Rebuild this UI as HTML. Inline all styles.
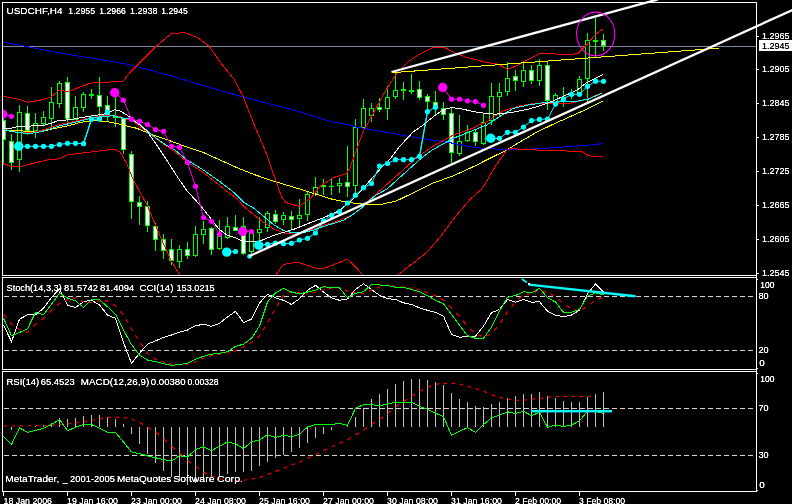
<!DOCTYPE html>
<html><head><meta charset="utf-8"><title>USDCHF,H4</title>
<style>html,body{margin:0;padding:0;background:#000;overflow:hidden}svg{display:block}text{font-family:"Liberation Sans",sans-serif;font-size:9.6px;fill:#fff}</style></head><body>
<svg width="792" height="504" viewBox="0 0 792 504">
<rect width="792" height="504" fill="#000"/>
<defs><filter id="gray" filterUnits="userSpaceOnUse" x="0" y="0" width="792" height="504" color-interpolation-filters="sRGB"><feColorMatrix type="saturate" values="0"/><feComponentTransfer><feFuncA type="linear" slope="1.45"/></feComponentTransfer></filter><clipPath id="cm"><rect x="3" y="3" width="753" height="272"/></clipPath><clipPath id="c1"><rect x="3" y="278" width="753" height="91"/></clipPath><clipPath id="c2"><rect x="3" y="372" width="753" height="119"/></clipPath></defs>
<g clip-path="url(#cm)">
<rect x="3" y="46" width="756" height="1" fill="#778899"/>
<g shape-rendering="crispEdges">
<rect x="3" y="114" width="1" height="51" fill="#0f0"/>
<rect x="1" y="120" width="5" height="20" fill="#0f0"/>
<rect x="2" y="121" width="3" height="18" fill="#fff"/>
<rect x="11" y="134" width="1" height="36" fill="#0f0"/>
<rect x="9" y="141" width="5" height="22" fill="#0f0"/>
<rect x="10" y="142" width="3" height="20" fill="#fff"/>
<rect x="19" y="105" width="1" height="67" fill="#0f0"/>
<rect x="17" y="112" width="5" height="48" fill="#0f0"/>
<rect x="18" y="113" width="3" height="46" fill="#000"/>
<rect x="27" y="106" width="1" height="29" fill="#0f0"/>
<rect x="25" y="113" width="5" height="18" fill="#0f0"/>
<rect x="26" y="114" width="3" height="16" fill="#fff"/>
<rect x="35" y="113" width="1" height="25" fill="#0f0"/>
<rect x="33" y="123" width="5" height="8" fill="#0f0"/>
<rect x="34" y="124" width="3" height="6" fill="#000"/>
<rect x="43" y="111" width="1" height="14" fill="#0f0"/>
<rect x="41" y="117" width="5" height="7" fill="#0f0"/>
<rect x="42" y="118" width="3" height="5" fill="#000"/>
<rect x="51" y="87" width="1" height="41" fill="#0f0"/>
<rect x="49" y="102" width="5" height="17" fill="#0f0"/>
<rect x="50" y="103" width="3" height="15" fill="#000"/>
<rect x="59" y="81" width="1" height="27" fill="#0f0"/>
<rect x="57" y="83" width="5" height="21" fill="#0f0"/>
<rect x="58" y="84" width="3" height="19" fill="#000"/>
<rect x="67" y="77" width="1" height="46" fill="#0f0"/>
<rect x="65" y="82" width="5" height="37" fill="#0f0"/>
<rect x="66" y="83" width="3" height="35" fill="#fff"/>
<rect x="75" y="96" width="1" height="24" fill="#0f0"/>
<rect x="73" y="107" width="5" height="13" fill="#0f0"/>
<rect x="74" y="108" width="3" height="11" fill="#000"/>
<rect x="83" y="92" width="1" height="20" fill="#0f0"/>
<rect x="81" y="94" width="5" height="14" fill="#0f0"/>
<rect x="82" y="95" width="3" height="12" fill="#000"/>
<rect x="91" y="89" width="1" height="10" fill="#0f0"/>
<rect x="89" y="94" width="5" height="2" fill="#0f0"/>
<rect x="99" y="77" width="1" height="39" fill="#0f0"/>
<rect x="97" y="95" width="5" height="12" fill="#0f0"/>
<rect x="98" y="96" width="3" height="10" fill="#fff"/>
<rect x="107" y="96" width="1" height="26" fill="#0f0"/>
<rect x="105" y="105" width="5" height="11" fill="#0f0"/>
<rect x="106" y="106" width="3" height="9" fill="#fff"/>
<rect x="115" y="97" width="1" height="30" fill="#0f0"/>
<rect x="113" y="116" width="5" height="2" fill="#0f0"/>
<rect x="123" y="117" width="1" height="37" fill="#0f0"/>
<rect x="121" y="118" width="5" height="32" fill="#0f0"/>
<rect x="122" y="119" width="3" height="30" fill="#fff"/>
<rect x="131" y="151" width="1" height="68" fill="#0f0"/>
<rect x="129" y="154" width="5" height="48" fill="#0f0"/>
<rect x="130" y="155" width="3" height="46" fill="#fff"/>
<rect x="139" y="196" width="1" height="29" fill="#0f0"/>
<rect x="137" y="202" width="5" height="5" fill="#0f0"/>
<rect x="138" y="203" width="3" height="3" fill="#fff"/>
<rect x="147" y="201" width="1" height="31" fill="#0f0"/>
<rect x="145" y="206" width="5" height="20" fill="#0f0"/>
<rect x="146" y="207" width="3" height="18" fill="#fff"/>
<rect x="155" y="223" width="1" height="28" fill="#0f0"/>
<rect x="153" y="226" width="5" height="14" fill="#0f0"/>
<rect x="154" y="227" width="3" height="12" fill="#fff"/>
<rect x="163" y="234" width="1" height="25" fill="#0f0"/>
<rect x="161" y="239" width="5" height="12" fill="#0f0"/>
<rect x="162" y="240" width="3" height="10" fill="#fff"/>
<rect x="171" y="239" width="1" height="26" fill="#0f0"/>
<rect x="169" y="249" width="5" height="12" fill="#0f0"/>
<rect x="170" y="250" width="3" height="10" fill="#fff"/>
<rect x="179" y="245" width="1" height="23" fill="#0f0"/>
<rect x="177" y="249" width="5" height="13" fill="#0f0"/>
<rect x="178" y="250" width="3" height="11" fill="#000"/>
<rect x="187" y="242" width="1" height="17" fill="#0f0"/>
<rect x="185" y="249" width="5" height="7" fill="#0f0"/>
<rect x="186" y="250" width="3" height="5" fill="#fff"/>
<rect x="195" y="226" width="1" height="31" fill="#0f0"/>
<rect x="193" y="234" width="5" height="22" fill="#0f0"/>
<rect x="194" y="235" width="3" height="20" fill="#000"/>
<rect x="203" y="221" width="1" height="23" fill="#0f0"/>
<rect x="201" y="229" width="5" height="6" fill="#0f0"/>
<rect x="202" y="230" width="3" height="4" fill="#000"/>
<rect x="211" y="227" width="1" height="28" fill="#0f0"/>
<rect x="209" y="228" width="5" height="22" fill="#0f0"/>
<rect x="210" y="229" width="3" height="20" fill="#fff"/>
<rect x="219" y="220" width="1" height="30" fill="#0f0"/>
<rect x="217" y="236" width="5" height="13" fill="#0f0"/>
<rect x="218" y="237" width="3" height="11" fill="#000"/>
<rect x="227" y="217" width="1" height="22" fill="#0f0"/>
<rect x="225" y="226" width="5" height="12" fill="#0f0"/>
<rect x="226" y="227" width="3" height="10" fill="#000"/>
<rect x="235" y="215" width="1" height="16" fill="#0f0"/>
<rect x="233" y="227" width="5" height="4" fill="#0f0"/>
<rect x="234" y="228" width="3" height="2" fill="#fff"/>
<rect x="243" y="217" width="1" height="38" fill="#0f0"/>
<rect x="241" y="226" width="5" height="28" fill="#0f0"/>
<rect x="242" y="227" width="3" height="26" fill="#fff"/>
<rect x="251" y="232" width="1" height="22" fill="#0f0"/>
<rect x="249" y="232" width="5" height="20" fill="#0f0"/>
<rect x="250" y="233" width="3" height="18" fill="#000"/>
<rect x="259" y="217" width="1" height="24" fill="#0f0"/>
<rect x="257" y="229" width="5" height="4" fill="#0f0"/>
<rect x="258" y="230" width="3" height="2" fill="#000"/>
<rect x="267" y="211" width="1" height="21" fill="#0f0"/>
<rect x="265" y="213" width="5" height="15" fill="#0f0"/>
<rect x="266" y="214" width="3" height="13" fill="#000"/>
<rect x="275" y="210" width="1" height="14" fill="#0f0"/>
<rect x="273" y="214" width="5" height="8" fill="#0f0"/>
<rect x="274" y="215" width="3" height="6" fill="#fff"/>
<rect x="283" y="212" width="1" height="13" fill="#0f0"/>
<rect x="281" y="215" width="5" height="5" fill="#0f0"/>
<rect x="282" y="216" width="3" height="3" fill="#000"/>
<rect x="291" y="211" width="1" height="18" fill="#0f0"/>
<rect x="289" y="216" width="5" height="4" fill="#0f0"/>
<rect x="290" y="217" width="3" height="2" fill="#fff"/>
<rect x="299" y="199" width="1" height="27" fill="#0f0"/>
<rect x="297" y="215" width="5" height="4" fill="#0f0"/>
<rect x="298" y="216" width="3" height="2" fill="#000"/>
<rect x="307" y="192" width="1" height="29" fill="#0f0"/>
<rect x="305" y="194" width="5" height="21" fill="#0f0"/>
<rect x="306" y="195" width="3" height="19" fill="#000"/>
<rect x="315" y="177" width="1" height="19" fill="#0f0"/>
<rect x="313" y="187" width="5" height="7" fill="#0f0"/>
<rect x="314" y="188" width="3" height="5" fill="#000"/>
<rect x="323" y="179" width="1" height="16" fill="#0f0"/>
<rect x="321" y="185" width="5" height="2" fill="#0f0"/>
<rect x="331" y="179" width="1" height="16" fill="#0f0"/>
<rect x="329" y="186" width="5" height="1" fill="#0f0"/>
<rect x="339" y="178" width="1" height="15" fill="#0f0"/>
<rect x="337" y="183" width="5" height="3" fill="#0f0"/>
<rect x="338" y="184" width="3" height="1" fill="#000"/>
<rect x="347" y="146" width="1" height="51" fill="#0f0"/>
<rect x="345" y="182" width="5" height="5" fill="#0f0"/>
<rect x="346" y="183" width="3" height="3" fill="#fff"/>
<rect x="355" y="119" width="1" height="75" fill="#0f0"/>
<rect x="353" y="127" width="5" height="59" fill="#0f0"/>
<rect x="354" y="128" width="3" height="57" fill="#000"/>
<rect x="363" y="99" width="1" height="29" fill="#0f0"/>
<rect x="361" y="108" width="5" height="20" fill="#0f0"/>
<rect x="362" y="109" width="3" height="18" fill="#000"/>
<rect x="371" y="103" width="1" height="19" fill="#0f0"/>
<rect x="369" y="108" width="5" height="8" fill="#0f0"/>
<rect x="370" y="109" width="3" height="6" fill="#000"/>
<rect x="379" y="98" width="1" height="14" fill="#0f0"/>
<rect x="377" y="107" width="5" height="3" fill="#0f0"/>
<rect x="378" y="108" width="3" height="1" fill="#fff"/>
<rect x="387" y="86" width="1" height="34" fill="#0f0"/>
<rect x="385" y="97" width="5" height="12" fill="#0f0"/>
<rect x="386" y="98" width="3" height="10" fill="#000"/>
<rect x="395" y="71" width="1" height="28" fill="#0f0"/>
<rect x="393" y="90" width="5" height="7" fill="#0f0"/>
<rect x="394" y="91" width="3" height="5" fill="#000"/>
<rect x="403" y="82" width="1" height="18" fill="#0f0"/>
<rect x="401" y="89" width="5" height="2" fill="#0f0"/>
<rect x="411" y="74" width="1" height="20" fill="#0f0"/>
<rect x="409" y="90" width="5" height="2" fill="#0f0"/>
<rect x="419" y="81" width="1" height="19" fill="#0f0"/>
<rect x="417" y="89" width="5" height="9" fill="#0f0"/>
<rect x="418" y="90" width="3" height="7" fill="#fff"/>
<rect x="427" y="94" width="1" height="16" fill="#0f0"/>
<rect x="425" y="96" width="5" height="6" fill="#0f0"/>
<rect x="426" y="97" width="3" height="4" fill="#fff"/>
<rect x="435" y="91" width="1" height="25" fill="#0f0"/>
<rect x="433" y="102" width="5" height="6" fill="#0f0"/>
<rect x="434" y="103" width="3" height="4" fill="#fff"/>
<rect x="443" y="102" width="1" height="18" fill="#0f0"/>
<rect x="441" y="108" width="5" height="7" fill="#0f0"/>
<rect x="442" y="109" width="3" height="5" fill="#fff"/>
<rect x="451" y="108" width="1" height="55" fill="#0f0"/>
<rect x="449" y="113" width="5" height="40" fill="#0f0"/>
<rect x="450" y="114" width="3" height="38" fill="#fff"/>
<rect x="459" y="115" width="1" height="41" fill="#0f0"/>
<rect x="457" y="141" width="5" height="13" fill="#0f0"/>
<rect x="458" y="142" width="3" height="11" fill="#000"/>
<rect x="467" y="125" width="1" height="17" fill="#0f0"/>
<rect x="465" y="132" width="5" height="9" fill="#0f0"/>
<rect x="466" y="133" width="3" height="7" fill="#000"/>
<rect x="475" y="129" width="1" height="17" fill="#0f0"/>
<rect x="473" y="132" width="5" height="10" fill="#0f0"/>
<rect x="474" y="133" width="3" height="8" fill="#fff"/>
<rect x="483" y="114" width="1" height="31" fill="#0f0"/>
<rect x="481" y="122" width="5" height="22" fill="#0f0"/>
<rect x="482" y="123" width="3" height="20" fill="#000"/>
<rect x="491" y="83" width="1" height="42" fill="#0f0"/>
<rect x="489" y="96" width="5" height="25" fill="#0f0"/>
<rect x="490" y="97" width="3" height="23" fill="#000"/>
<rect x="499" y="83" width="1" height="34" fill="#0f0"/>
<rect x="497" y="92" width="5" height="5" fill="#0f0"/>
<rect x="498" y="93" width="3" height="3" fill="#000"/>
<rect x="507" y="62" width="1" height="34" fill="#0f0"/>
<rect x="505" y="78" width="5" height="14" fill="#0f0"/>
<rect x="506" y="79" width="3" height="12" fill="#000"/>
<rect x="515" y="70" width="1" height="21" fill="#0f0"/>
<rect x="513" y="76" width="5" height="5" fill="#0f0"/>
<rect x="514" y="77" width="3" height="3" fill="#fff"/>
<rect x="523" y="62" width="1" height="25" fill="#0f0"/>
<rect x="521" y="70" width="5" height="12" fill="#0f0"/>
<rect x="522" y="71" width="3" height="10" fill="#000"/>
<rect x="531" y="65" width="1" height="19" fill="#0f0"/>
<rect x="529" y="70" width="5" height="11" fill="#0f0"/>
<rect x="530" y="71" width="3" height="9" fill="#fff"/>
<rect x="539" y="59" width="1" height="27" fill="#0f0"/>
<rect x="537" y="65" width="5" height="16" fill="#0f0"/>
<rect x="538" y="66" width="3" height="14" fill="#000"/>
<rect x="547" y="62" width="1" height="48" fill="#0f0"/>
<rect x="545" y="65" width="5" height="36" fill="#0f0"/>
<rect x="546" y="66" width="3" height="34" fill="#fff"/>
<rect x="555" y="93" width="1" height="12" fill="#0f0"/>
<rect x="553" y="95" width="5" height="9" fill="#0f0"/>
<rect x="554" y="96" width="3" height="7" fill="#000"/>
<rect x="563" y="87" width="1" height="20" fill="#0f0"/>
<rect x="561" y="98" width="5" height="2" fill="#0f0"/>
<rect x="571" y="89" width="1" height="10" fill="#0f0"/>
<rect x="569" y="93" width="5" height="2" fill="#0f0"/>
<rect x="579" y="76" width="1" height="18" fill="#0f0"/>
<rect x="577" y="79" width="5" height="14" fill="#0f0"/>
<rect x="578" y="80" width="3" height="12" fill="#000"/>
<rect x="587" y="33" width="1" height="69" fill="#0f0"/>
<rect x="585" y="40" width="5" height="39" fill="#0f0"/>
<rect x="586" y="41" width="3" height="37" fill="#000"/>
<rect x="595" y="18" width="1" height="39" fill="#0f0"/>
<rect x="593" y="40" width="5" height="2" fill="#0f0"/>
<rect x="603" y="34" width="1" height="17" fill="#0f0"/>
<rect x="601" y="40" width="5" height="6" fill="#0f0"/>
<rect x="602" y="41" width="3" height="4" fill="#fff"/>
</g>
<polyline points="3.0,42.0 25.0,46.2 50.0,51.2 75.0,55.5 100.0,59.5 125.0,63.8 150.0,70.0 175.0,77.0 198.0,84.2 243.0,97.0 298.0,111.2 330.0,121.3 348.0,124.5 355.0,126.8 383.3,131.8 408.3,136.3 432.0,140.2 445.0,141.7 470.0,146.7 486.7,148.8 506.7,149.3 528.3,149.2 552.0,147.8 571.0,146.5 594.0,144.7 603.0,143.5" fill="none" stroke="#00f" stroke-width="1" shape-rendering="crispEdges"/>
<polyline points="3.3,129.3 10.0,130.8 23.3,131.0 31.7,131.7 40.8,131.7 55.0,128.3 65.0,126.5 73.0,124.5 80.0,122.5 93.3,120.4 106.7,121.5 120.0,124.2 136.7,128.3 153.3,135.0 170.0,140.8 186.7,147.0 203.3,152.5 220.0,160.0 236.7,167.5 252.0,173.8 273.0,181.0 298.0,188.5 315.5,194.0 330.5,198.8 348.0,202.5 368.0,204.6 383.0,204.0 396.0,201.0 400.0,199.3 416.7,191.0 432.0,183.5 453.3,175.8 473.3,166.7 490.0,158.3 506.7,150.0 523.3,140.0 536.7,132.2 553.3,124.2 570.0,116.7 586.7,109.2 602.7,101.2" fill="none" stroke="#ff0" stroke-width="1" shape-rendering="crispEdges"/>
<polyline points="3.0,96.3 16.7,98.8 28.0,102.2 40.0,100.3 50.8,97.1 59.2,90.3 67.5,91.5 73.3,89.8 78.3,87.7 90.0,83.3 96.7,82.5 106.7,82.3 123.3,81.0 130.0,72.5 142.5,60.0 157.5,45.0 171.2,33.8 185.0,32.5 198.0,38.0 209.2,46.2 220.5,62.5 234.2,79.5 243.0,96.2 254.2,125.0 265.5,151.0 275.5,179.8 281.5,196.7 285.7,202.5 299.0,206.3 310.7,198.3 320.5,186.0 333.3,177.7 346.7,173.5 350.0,167.7 356.7,149.3 363.3,131.5 373.3,113.3 385.0,91.7 396.7,73.3 408.3,61.7 418.3,55.0 428.3,50.0 433.3,47.3 444.2,47.3 455.0,53.0 460.0,55.0 466.7,57.5 483.3,61.7 492.0,63.3 498.3,64.2 507.5,69.2 516.7,65.8 528.3,59.2 540.0,53.5 551.7,53.7 568.3,55.0 578.3,53.3 585.0,46.7 595.0,35.0 602.5,29.2" fill="none" stroke="#f00" stroke-width="1" shape-rendering="crispEdges"/>
<polyline points="3.3,163.3 11.7,166.7 20.0,166.7 33.3,163.3 46.7,160.0 60.0,158.7 67.5,154.7 80.0,153.3 93.3,151.7 106.7,150.0 114.2,149.2 120.0,151.8 126.7,163.5 133.3,180.0 139.2,190.5 147.5,205.8 155.8,225.8 163.3,243.3 171.7,261.7 178.3,272.5 181.0,277.0" fill="none" stroke="#f00" stroke-width="1" shape-rendering="crispEdges"/>
<polyline points="274.0,277.0 277.3,273.3 283.2,264.5 297.3,262.2 315.7,268.3 324.0,268.3 337.3,263.3 347.3,259.2 354.0,265.5 360.7,272.5 364.0,277.0" fill="none" stroke="#f00" stroke-width="1" shape-rendering="crispEdges"/>
<polyline points="396.0,277.0 398.5,274.5 427.2,252.0 441.0,236.0 456.0,216.0 471.0,198.5 481.0,189.8 485.0,184.0 495.0,166.7 503.3,155.0 506.7,150.3 510.0,148.5 520.0,149.2 536.7,150.0 552.0,150.8 581.0,151.2 588.5,155.5 594.0,156.8 603.0,156.3" fill="none" stroke="#f00" stroke-width="1" shape-rendering="crispEdges"/>
<polyline points="3.3,129.3 13.3,131.8 26.7,132.7 36.7,131.8 50.0,127.7 60.0,124.3 73.3,121.8 86.7,118.5 100.0,116.0 113.3,115.2 120.0,116.7 133.3,121.7 150.0,134.2 163.3,144.2 175.0,151.7 186.7,161.7 203.3,172.5 220.0,185.8 228.3,192.5 236.7,198.3 244.0,206.7 254.0,215.0 264.0,222.5 274.0,229.2 284.0,233.0 294.0,234.2 304.0,232.5 314.0,229.2 324.0,225.0 334.0,222.5 344.0,218.3 352.3,215.0 360.7,208.3 369.0,200.0 376.0,194.2 383.3,187.7 400.0,172.7 416.7,157.7 432.0,146.8 436.7,144.2 453.3,135.0 470.0,129.2 486.7,121.7 503.3,110.8 520.0,105.8 533.3,103.7 550.0,103.0 566.7,103.6 574.8,102.4 588.2,98.7 602.3,92.4" fill="none" stroke="#f00" stroke-width="1" shape-rendering="crispEdges"/>
<polyline points="3.3,129.7 13.3,131.8 26.7,133.5 36.7,132.7 50.0,129.0 60.0,125.7 73.3,122.7 86.7,119.3 100.0,116.8 113.3,115.7 120.0,117.5 130.0,119.2 140.0,124.2 150.0,133.3 163.3,143.3 175.0,150.0 186.7,159.7 203.3,170.0 220.0,181.7 235.0,193.3 244.0,202.5 254.0,208.3 264.0,216.7 274.0,225.0 284.0,230.8 294.0,233.0 304.0,232.5 314.0,230.0 322.3,226.7 334.0,223.3 344.0,220.0 352.3,215.0 360.7,208.6 369.0,201.0 376.0,195.0 386.7,189.3 403.3,174.3 420.0,159.3 432.0,150.2 436.7,147.5 453.3,138.3 470.0,131.7 486.7,125.0 503.3,114.2 513.3,108.3 528.3,105.0 544.0,102.6 560.0,101.8 574.8,101.6 588.2,99.1 602.3,93.2" fill="none" stroke="#0ff" stroke-width="1" shape-rendering="crispEdges"/>
<polyline points="3.3,129.0 12.5,127.9 17.5,126.7 30.8,126.3 33.0,125.0 45.0,125.0 53.3,122.5 58.3,120.4 66.0,120.0 70.0,119.7 83.3,117.3 93.3,115.7 103.3,114.3 110.0,111.8 115.0,109.7 120.0,110.9 126.7,115.0 136.7,122.5 146.7,130.8 156.7,145.0 166.7,160.0 176.7,175.8 186.7,190.5 200.0,205.0 210.0,217.5 213.8,222.9 220.0,230.0 227.5,235.4 235.0,237.5 243.3,241.5 255.8,241.7 261.7,240.4 268.3,237.5 277.3,234.2 294.0,229.2 310.7,222.5 324.0,217.5 337.3,211.7 347.3,204.2 357.3,195.0 366.7,184.3 380.0,169.3 390.0,159.3 400.0,146.0 413.3,131.8 423.3,125.0 433.3,116.7 443.3,109.6 451.7,107.5 461.7,109.0 478.3,112.5 495.0,114.2 511.7,112.5 528.3,109.2 544.0,104.5 553.3,100.8 570.0,93.3 577.3,89.9 586.7,82.5 603.2,74.3" fill="none" stroke="#fff" stroke-width="1" shape-rendering="crispEdges"/>
<polyline points="107.5,112.2 107.5,112.2" fill="none" stroke="#0ff" stroke-width="1" />
<polyline points="18.7,146.3 27.5,146.3 35.5,146.3 43.5,146.3 51.5,146.3 59.5,144.5 67.5,143.3 75.5,143.3 83.5,143.7 91.5,119.2 99.5,119.2 107.5,112.2" fill="none" stroke="#0ff" stroke-width="1" />
<circle cx="18.7" cy="146.3" r="4.7" fill="#0ff"/>
<circle cx="27.5" cy="146.3" r="2.6" fill="#0ff"/>
<circle cx="35.5" cy="146.3" r="2.6" fill="#0ff"/>
<circle cx="43.5" cy="146.3" r="2.6" fill="#0ff"/>
<circle cx="51.5" cy="146.3" r="2.6" fill="#0ff"/>
<circle cx="59.5" cy="144.5" r="2.6" fill="#0ff"/>
<circle cx="67.5" cy="143.3" r="2.6" fill="#0ff"/>
<circle cx="75.5" cy="143.3" r="2.6" fill="#0ff"/>
<circle cx="83.5" cy="143.7" r="2.6" fill="#0ff"/>
<circle cx="91.5" cy="119.2" r="2.6" fill="#0ff"/>
<circle cx="99.5" cy="119.2" r="2.6" fill="#0ff"/>
<circle cx="107.5" cy="112.2" r="2.6" fill="#0ff"/>
<polyline points="226.7,252.1 235.5,251.5" fill="none" stroke="#0ff" stroke-width="1" />
<circle cx="226.7" cy="252.1" r="4.7" fill="#0ff"/>
<circle cx="235.5" cy="251.5" r="2.6" fill="#0ff"/>
<polyline points="258.7,245.3 267.5,244.3 275.5,243.0 283.5,243.7 291.5,243.3 299.5,240.0 307.5,238.3 315.5,233.0 323.5,220.8 331.5,215.3 339.5,211.7 347.5,203.0 355.5,195.2 363.5,187.7 371.5,183.5 379.5,166.0 387.5,163.5 395.5,159.7 403.5,159.7 411.5,159.7 419.5,156.3 427.5,111.5 435.5,107.2" fill="none" stroke="#0ff" stroke-width="1" />
<circle cx="258.7" cy="245.3" r="4.7" fill="#0ff"/>
<circle cx="267.5" cy="244.3" r="2.6" fill="#0ff"/>
<circle cx="275.5" cy="243" r="2.6" fill="#0ff"/>
<circle cx="283.5" cy="243.7" r="2.6" fill="#0ff"/>
<circle cx="291.5" cy="243.3" r="2.6" fill="#0ff"/>
<circle cx="299.5" cy="240" r="2.6" fill="#0ff"/>
<circle cx="307.5" cy="238.3" r="2.6" fill="#0ff"/>
<circle cx="315.5" cy="233" r="2.6" fill="#0ff"/>
<circle cx="323.5" cy="220.8" r="2.6" fill="#0ff"/>
<circle cx="331.5" cy="215.3" r="2.6" fill="#0ff"/>
<circle cx="339.5" cy="211.7" r="2.6" fill="#0ff"/>
<circle cx="347.5" cy="203" r="2.6" fill="#0ff"/>
<circle cx="355.5" cy="195.2" r="2.6" fill="#0ff"/>
<circle cx="363.5" cy="187.7" r="2.6" fill="#0ff"/>
<circle cx="371.5" cy="183.5" r="2.6" fill="#0ff"/>
<circle cx="379.5" cy="166" r="2.6" fill="#0ff"/>
<circle cx="387.5" cy="163.5" r="2.6" fill="#0ff"/>
<circle cx="395.5" cy="159.7" r="2.6" fill="#0ff"/>
<circle cx="403.5" cy="159.7" r="2.6" fill="#0ff"/>
<circle cx="411.5" cy="159.7" r="2.6" fill="#0ff"/>
<circle cx="419.5" cy="156.3" r="2.6" fill="#0ff"/>
<circle cx="427.5" cy="111.5" r="2.6" fill="#0ff"/>
<circle cx="435.5" cy="107.2" r="2.6" fill="#0ff"/>
<polyline points="490.7,138.3 499.5,138.3 507.5,132.3 515.5,132.3 523.5,127.1 531.5,120.6 539.5,119.4 547.5,119.0 555.5,104.1 563.5,99.1 571.5,94.3 579.5,94.3 587.5,86.3 595.5,81.2 603.5,81.3" fill="none" stroke="#0ff" stroke-width="1" />
<circle cx="490.7" cy="138.3" r="4.7" fill="#0ff"/>
<circle cx="499.5" cy="138.3" r="2.6" fill="#0ff"/>
<circle cx="507.5" cy="132.3" r="2.6" fill="#0ff"/>
<circle cx="515.5" cy="132.3" r="2.6" fill="#0ff"/>
<circle cx="523.5" cy="127.1" r="2.6" fill="#0ff"/>
<circle cx="531.5" cy="120.6" r="2.6" fill="#0ff"/>
<circle cx="539.5" cy="119.4" r="2.6" fill="#0ff"/>
<circle cx="547.5" cy="119" r="2.6" fill="#0ff"/>
<circle cx="555.5" cy="104.1" r="2.6" fill="#0ff"/>
<circle cx="563.5" cy="99.1" r="2.6" fill="#0ff"/>
<circle cx="571.5" cy="94.3" r="2.6" fill="#0ff"/>
<circle cx="579.5" cy="94.3" r="2.6" fill="#0ff"/>
<circle cx="587.5" cy="86.3" r="2.6" fill="#0ff"/>
<circle cx="595.5" cy="81.2" r="2.6" fill="#0ff"/>
<circle cx="603.5" cy="81.3" r="2.6" fill="#0ff"/>
<polyline points="2.7,114.3 11.5,116.3" fill="none" stroke="#f0f" stroke-width="1" />
<circle cx="2.7" cy="114.3" r="4.7" fill="#f0f"/>
<circle cx="11.5" cy="116.3" r="2.6" fill="#f0f"/>
<polyline points="114.7,92.7 123.5,100.2 131.5,119.2 139.5,121.3 147.5,124.5 155.5,129.5 163.5,131.3 171.5,146.3 179.5,147.3 187.5,162.5 195.5,186.3 203.5,217.5 211.5,221.3 219.5,234.2" fill="none" stroke="#f0f" stroke-width="1" />
<circle cx="114.7" cy="92.7" r="4.7" fill="#f0f"/>
<circle cx="123.5" cy="100.2" r="2.6" fill="#f0f"/>
<circle cx="131.5" cy="119.2" r="2.6" fill="#f0f"/>
<circle cx="139.5" cy="121.3" r="2.6" fill="#f0f"/>
<circle cx="147.5" cy="124.5" r="2.6" fill="#f0f"/>
<circle cx="155.5" cy="129.5" r="2.6" fill="#f0f"/>
<circle cx="163.5" cy="131.3" r="2.6" fill="#f0f"/>
<circle cx="171.5" cy="146.3" r="2.6" fill="#f0f"/>
<circle cx="179.5" cy="147.3" r="2.6" fill="#f0f"/>
<circle cx="187.5" cy="162.5" r="2.6" fill="#f0f"/>
<circle cx="195.5" cy="186.3" r="2.6" fill="#f0f"/>
<circle cx="203.5" cy="217.5" r="2.6" fill="#f0f"/>
<circle cx="211.5" cy="221.3" r="2.6" fill="#f0f"/>
<circle cx="219.5" cy="234.2" r="2.6" fill="#f0f"/>
<polyline points="242.7,231.5 251.5,231.5" fill="none" stroke="#f0f" stroke-width="1" />
<circle cx="242.7" cy="231.5" r="4.7" fill="#f0f"/>
<circle cx="251.5" cy="231.5" r="2.6" fill="#f0f"/>
<polyline points="442.7,87.5 451.5,99.2 459.5,99.2 467.5,100.8 475.5,101.6 483.5,105.3" fill="none" stroke="#f0f" stroke-width="1" />
<circle cx="442.7" cy="87.5" r="4.7" fill="#f0f"/>
<circle cx="451.5" cy="99.2" r="2.6" fill="#f0f"/>
<circle cx="459.5" cy="99.2" r="2.6" fill="#f0f"/>
<circle cx="467.5" cy="100.8" r="2.6" fill="#f0f"/>
<circle cx="475.5" cy="101.6" r="2.6" fill="#f0f"/>
<circle cx="483.5" cy="105.3" r="2.6" fill="#f0f"/>
<polyline points="83.5,143.7 91.5,119.2" fill="none" stroke="#0ff" stroke-width="1.2" />
<polyline points="419.5,156.3 427.5,111.5" fill="none" stroke="#0ff" stroke-width="1.2" />
<circle cx="249.5" cy="256.4" r="2.4" fill="#0ff"/>
</g>
<g clip-path="url(#c1)">
<g shape-rendering="crispEdges" fill="#d4d4d4"><rect x="4" y="296" width="5" height="1"/><rect x="12" y="296" width="5" height="1"/><rect x="20" y="296" width="5" height="1"/><rect x="28" y="296" width="5" height="1"/><rect x="36" y="296" width="5" height="1"/><rect x="44" y="296" width="5" height="1"/><rect x="52" y="296" width="5" height="1"/><rect x="60" y="296" width="5" height="1"/><rect x="68" y="296" width="5" height="1"/><rect x="76" y="296" width="5" height="1"/><rect x="84" y="296" width="5" height="1"/><rect x="92" y="296" width="5" height="1"/><rect x="100" y="296" width="5" height="1"/><rect x="108" y="296" width="5" height="1"/><rect x="116" y="296" width="5" height="1"/><rect x="124" y="296" width="5" height="1"/><rect x="132" y="296" width="5" height="1"/><rect x="140" y="296" width="5" height="1"/><rect x="148" y="296" width="5" height="1"/><rect x="156" y="296" width="5" height="1"/><rect x="164" y="296" width="5" height="1"/><rect x="172" y="296" width="5" height="1"/><rect x="180" y="296" width="5" height="1"/><rect x="188" y="296" width="5" height="1"/><rect x="196" y="296" width="5" height="1"/><rect x="204" y="296" width="5" height="1"/><rect x="212" y="296" width="5" height="1"/><rect x="220" y="296" width="5" height="1"/><rect x="228" y="296" width="5" height="1"/><rect x="236" y="296" width="5" height="1"/><rect x="244" y="296" width="5" height="1"/><rect x="252" y="296" width="5" height="1"/><rect x="260" y="296" width="5" height="1"/><rect x="268" y="296" width="5" height="1"/><rect x="276" y="296" width="5" height="1"/><rect x="284" y="296" width="5" height="1"/><rect x="292" y="296" width="5" height="1"/><rect x="300" y="296" width="5" height="1"/><rect x="308" y="296" width="5" height="1"/><rect x="316" y="296" width="5" height="1"/><rect x="324" y="296" width="5" height="1"/><rect x="332" y="296" width="5" height="1"/><rect x="340" y="296" width="5" height="1"/><rect x="348" y="296" width="5" height="1"/><rect x="356" y="296" width="5" height="1"/><rect x="364" y="296" width="5" height="1"/><rect x="372" y="296" width="5" height="1"/><rect x="380" y="296" width="5" height="1"/><rect x="388" y="296" width="5" height="1"/><rect x="396" y="296" width="5" height="1"/><rect x="404" y="296" width="5" height="1"/><rect x="412" y="296" width="5" height="1"/><rect x="420" y="296" width="5" height="1"/><rect x="428" y="296" width="5" height="1"/><rect x="436" y="296" width="5" height="1"/><rect x="444" y="296" width="5" height="1"/><rect x="452" y="296" width="5" height="1"/><rect x="460" y="296" width="5" height="1"/><rect x="468" y="296" width="5" height="1"/><rect x="476" y="296" width="5" height="1"/><rect x="484" y="296" width="5" height="1"/><rect x="492" y="296" width="5" height="1"/><rect x="500" y="296" width="5" height="1"/><rect x="508" y="296" width="5" height="1"/><rect x="516" y="296" width="5" height="1"/><rect x="524" y="296" width="5" height="1"/><rect x="532" y="296" width="5" height="1"/><rect x="540" y="296" width="5" height="1"/><rect x="548" y="296" width="5" height="1"/><rect x="556" y="296" width="5" height="1"/><rect x="564" y="296" width="5" height="1"/><rect x="572" y="296" width="5" height="1"/><rect x="580" y="296" width="5" height="1"/><rect x="588" y="296" width="5" height="1"/><rect x="596" y="296" width="5" height="1"/><rect x="604" y="296" width="5" height="1"/><rect x="612" y="296" width="5" height="1"/><rect x="620" y="296" width="5" height="1"/><rect x="628" y="296" width="5" height="1"/><rect x="636" y="296" width="5" height="1"/><rect x="644" y="296" width="5" height="1"/><rect x="652" y="296" width="5" height="1"/><rect x="660" y="296" width="5" height="1"/><rect x="668" y="296" width="5" height="1"/><rect x="676" y="296" width="5" height="1"/><rect x="684" y="296" width="5" height="1"/><rect x="692" y="296" width="5" height="1"/><rect x="700" y="296" width="5" height="1"/><rect x="708" y="296" width="5" height="1"/><rect x="716" y="296" width="5" height="1"/><rect x="724" y="296" width="5" height="1"/><rect x="732" y="296" width="5" height="1"/><rect x="740" y="296" width="5" height="1"/><rect x="748" y="296" width="5" height="1"/></g>
<g shape-rendering="crispEdges" fill="#d4d4d4"><rect x="4" y="350" width="5" height="1"/><rect x="12" y="350" width="5" height="1"/><rect x="20" y="350" width="5" height="1"/><rect x="28" y="350" width="5" height="1"/><rect x="36" y="350" width="5" height="1"/><rect x="44" y="350" width="5" height="1"/><rect x="52" y="350" width="5" height="1"/><rect x="60" y="350" width="5" height="1"/><rect x="68" y="350" width="5" height="1"/><rect x="76" y="350" width="5" height="1"/><rect x="84" y="350" width="5" height="1"/><rect x="92" y="350" width="5" height="1"/><rect x="100" y="350" width="5" height="1"/><rect x="108" y="350" width="5" height="1"/><rect x="116" y="350" width="5" height="1"/><rect x="124" y="350" width="5" height="1"/><rect x="132" y="350" width="5" height="1"/><rect x="140" y="350" width="5" height="1"/><rect x="148" y="350" width="5" height="1"/><rect x="156" y="350" width="5" height="1"/><rect x="164" y="350" width="5" height="1"/><rect x="172" y="350" width="5" height="1"/><rect x="180" y="350" width="5" height="1"/><rect x="188" y="350" width="5" height="1"/><rect x="196" y="350" width="5" height="1"/><rect x="204" y="350" width="5" height="1"/><rect x="212" y="350" width="5" height="1"/><rect x="220" y="350" width="5" height="1"/><rect x="228" y="350" width="5" height="1"/><rect x="236" y="350" width="5" height="1"/><rect x="244" y="350" width="5" height="1"/><rect x="252" y="350" width="5" height="1"/><rect x="260" y="350" width="5" height="1"/><rect x="268" y="350" width="5" height="1"/><rect x="276" y="350" width="5" height="1"/><rect x="284" y="350" width="5" height="1"/><rect x="292" y="350" width="5" height="1"/><rect x="300" y="350" width="5" height="1"/><rect x="308" y="350" width="5" height="1"/><rect x="316" y="350" width="5" height="1"/><rect x="324" y="350" width="5" height="1"/><rect x="332" y="350" width="5" height="1"/><rect x="340" y="350" width="5" height="1"/><rect x="348" y="350" width="5" height="1"/><rect x="356" y="350" width="5" height="1"/><rect x="364" y="350" width="5" height="1"/><rect x="372" y="350" width="5" height="1"/><rect x="380" y="350" width="5" height="1"/><rect x="388" y="350" width="5" height="1"/><rect x="396" y="350" width="5" height="1"/><rect x="404" y="350" width="5" height="1"/><rect x="412" y="350" width="5" height="1"/><rect x="420" y="350" width="5" height="1"/><rect x="428" y="350" width="5" height="1"/><rect x="436" y="350" width="5" height="1"/><rect x="444" y="350" width="5" height="1"/><rect x="452" y="350" width="5" height="1"/><rect x="460" y="350" width="5" height="1"/><rect x="468" y="350" width="5" height="1"/><rect x="476" y="350" width="5" height="1"/><rect x="484" y="350" width="5" height="1"/><rect x="492" y="350" width="5" height="1"/><rect x="500" y="350" width="5" height="1"/><rect x="508" y="350" width="5" height="1"/><rect x="516" y="350" width="5" height="1"/><rect x="524" y="350" width="5" height="1"/><rect x="532" y="350" width="5" height="1"/><rect x="540" y="350" width="5" height="1"/><rect x="548" y="350" width="5" height="1"/><rect x="556" y="350" width="5" height="1"/><rect x="564" y="350" width="5" height="1"/><rect x="572" y="350" width="5" height="1"/><rect x="580" y="350" width="5" height="1"/><rect x="588" y="350" width="5" height="1"/><rect x="596" y="350" width="5" height="1"/><rect x="604" y="350" width="5" height="1"/><rect x="612" y="350" width="5" height="1"/><rect x="620" y="350" width="5" height="1"/><rect x="628" y="350" width="5" height="1"/><rect x="636" y="350" width="5" height="1"/><rect x="644" y="350" width="5" height="1"/><rect x="652" y="350" width="5" height="1"/><rect x="660" y="350" width="5" height="1"/><rect x="668" y="350" width="5" height="1"/><rect x="676" y="350" width="5" height="1"/><rect x="684" y="350" width="5" height="1"/><rect x="692" y="350" width="5" height="1"/><rect x="700" y="350" width="5" height="1"/><rect x="708" y="350" width="5" height="1"/><rect x="716" y="350" width="5" height="1"/><rect x="724" y="350" width="5" height="1"/><rect x="732" y="350" width="5" height="1"/><rect x="740" y="350" width="5" height="1"/><rect x="748" y="350" width="5" height="1"/></g>
<polyline points="3.5,325.0 11.5,341.7 19.5,319.2 27.5,314.7 35.5,314.7 43.5,308.3 51.5,297.5 59.5,288.7 67.5,305.3 75.5,307.5 83.5,301.7 91.5,300.3 99.5,305.0 107.5,315.0 115.5,318.3 123.5,342.5 131.5,363.3 139.5,353.3 147.5,344.2 155.5,340.8 163.5,337.5 171.5,335.0 179.5,332.2 187.5,330.0 195.5,325.8 203.5,324.2 211.5,326.3 219.5,323.3 227.5,317.0 235.5,311.3 243.5,322.5 251.5,319.2 259.5,303.0 267.5,294.2 275.5,297.8 283.5,300.3 291.5,304.5 299.5,298.7 307.5,290.3 315.5,285.3 323.5,292.0 331.5,297.8 339.5,300.3 347.5,299.0 355.5,289.5 363.5,283.7 371.5,289.5 379.5,295.3 387.5,298.7 395.5,299.5 403.5,302.8 411.5,304.5 419.5,307.8 427.5,310.3 435.5,312.3 443.5,316.2 451.5,334.5 459.5,337.3 467.5,336.2 475.5,336.2 483.5,326.2 491.5,312.8 499.5,309.5 507.5,299.5 515.5,302.2 523.5,299.5 531.5,302.3 539.5,301.7 547.5,311.2 555.5,315.3 563.5,316.7 571.5,315.0 579.5,310.3 587.5,293.7 595.5,284.0 603.5,292.0" fill="none" stroke="#fff" stroke-width="1" shape-rendering="crispEdges"/>
<path d="M3.5,314.2L6.4,317.8M9.9,322.2L11.5,324.2M11.5,324.2L13.1,325.3M13.1,325.3L13.1,325.3M17.5,328.3L19.5,329.7M19.5,329.7L21.1,330.3M25.5,331.8L27.5,332.5M27.5,332.5L29.0,330.9M33.3,326.5L35.5,324.2M35.5,324.2L36.8,323.2M41.2,320.0L43.5,318.3M43.5,318.3L44.8,317.0M49.0,312.6L51.5,310.0M51.5,310.0L52.5,309.2M56.9,305.5L59.5,303.3M59.5,303.3L60.5,302.9M64.9,300.9L67.5,299.7M67.5,299.7L68.5,299.5M68.5,299.5L68.5,299.5M72.9,298.6L75.5,298.0M75.5,298.0L76.5,298.5M76.5,298.5L76.5,298.5M80.9,300.5L83.5,301.7M83.5,301.7L84.5,301.8M84.5,301.8L84.5,301.8M88.9,302.2L91.5,302.5M91.5,302.5L92.5,302.3M92.5,302.3L92.5,302.3M96.9,301.4L99.5,300.8M99.5,300.8L100.5,300.8M100.5,300.8L100.5,300.8M104.9,300.8L107.5,300.8M107.5,300.8L108.5,301.4M108.5,301.4L108.5,301.4M112.9,304.2L115.5,305.8M115.5,305.8L116.4,306.8M116.4,306.8L116.4,306.8M120.2,311.2L123.3,314.8M123.3,314.8L123.3,314.8M126.0,319.2L128.1,322.8M128.1,322.8L128.1,322.8M128.1,322.8L128.1,322.8M130.6,327.2L131.5,328.7M131.5,328.7L132.8,330.8M132.8,330.8L132.8,330.8M132.8,330.8L132.8,330.8M135.5,335.2L137.7,338.8M137.7,338.8L137.7,338.8M137.7,338.8L137.7,338.8M137.7,338.8L137.7,338.8M137.7,338.8L137.7,338.8M140.5,343.2L143.0,346.8M143.0,346.8L143.0,346.8M143.0,346.8L143.0,346.8M146.1,351.2L147.5,353.3M147.5,353.3L149.0,354.4M149.0,354.4L149.0,354.4M149.0,354.4L149.0,354.4M153.4,357.7L155.5,359.2M155.5,359.2L157.0,359.7M157.0,359.7L157.0,359.7M157.0,359.7L157.0,359.7M161.4,361.3L163.5,362.0M163.5,362.0L165.0,362.4M165.0,362.4L165.0,362.4M165.0,362.4L165.0,362.4M169.4,363.6L171.5,364.2M171.5,364.2L173.0,364.3M173.0,364.3L173.0,364.3M173.0,364.3L173.0,364.3M177.4,364.6L179.5,364.7M179.5,364.7L181.0,364.6M181.0,364.6L181.0,364.6M181.0,364.6L181.0,364.6M185.4,364.3L187.5,364.2M187.5,364.2L189.0,363.8M189.0,363.8L189.0,363.8M189.0,363.8L189.0,363.8M193.4,362.6L195.5,362.0M195.5,362.0L197.0,361.3M197.0,361.3L197.0,361.3M197.0,361.3L197.0,361.3M201.4,359.3L203.5,358.3M203.5,358.3L205.0,357.8M205.0,357.8L205.0,357.8M205.0,357.8L205.0,357.8M209.4,356.5L211.5,355.8M211.5,355.8L213.0,355.5M213.0,355.5L213.0,355.5M213.0,355.5L213.0,355.5M217.4,354.6L219.5,354.2M219.5,354.2L221.0,354.0M221.0,354.0L221.0,354.0M221.0,354.0L221.0,354.0M225.4,353.3L227.5,353.0M227.5,353.0L229.0,352.6M229.0,352.6L229.0,352.6M229.0,352.6L229.0,352.6M233.4,351.4L235.5,350.8M235.5,350.8L237.0,350.0M237.0,350.0L237.0,350.0M237.0,350.0L237.0,350.0M241.4,347.8L243.5,346.7M243.5,346.7L245.0,345.9M249.4,343.6L251.5,342.5M251.5,342.5L253.0,341.3M257.4,337.7L259.5,336.0M259.5,336.0L260.4,334.5M263.1,330.1L265.3,326.5M265.3,326.5L265.3,326.5M267.9,322.1L269.9,318.5M272.4,314.1L274.5,310.5M274.5,310.5L274.5,310.5M277.1,306.1L279.2,302.5M281.8,298.1L283.5,295.3M283.5,295.3L284.3,294.9M288.7,293.0L291.5,291.7M291.5,291.7L292.3,291.8M296.7,292.1L299.5,292.3M299.5,292.3L300.3,292.4M304.7,292.9L307.5,293.3M307.5,293.3L308.3,293.2M312.7,292.7L315.5,292.3M315.5,292.3L316.3,292.1M320.7,290.8L323.5,290.0M323.5,290.0L324.3,289.8M328.7,288.9L331.5,288.3M331.5,288.3L332.3,288.2M336.7,288.0L339.5,287.8M339.5,287.8L340.3,288.1M344.7,290.0L347.5,291.2M347.5,291.2L348.3,291.4M352.7,292.2L355.5,292.8M355.5,292.8L356.3,292.9M360.7,293.4L363.5,293.7M363.5,293.7L364.3,293.3M368.7,291.3L371.5,290.0M371.5,290.0L372.3,289.7M376.7,288.1L379.5,287.0M379.5,287.0L380.3,286.8M384.7,285.7L387.5,285.0M387.5,285.0L388.3,285.1M392.7,285.8L395.5,286.2M395.5,286.2L396.3,286.3M400.7,286.7L403.5,287.0M403.5,287.0L404.3,287.1M408.7,287.8L411.5,288.3M411.5,288.3L412.3,288.4M416.7,289.1L419.5,289.5M419.5,289.5L420.3,289.8M424.7,291.6L427.5,292.8M427.5,292.8L428.3,293.1M432.7,294.7L435.5,295.7M435.5,295.7L436.3,296.1M440.7,298.5L443.5,300.0M443.5,300.0L444.3,300.8M448.7,305.1L451.5,307.8M451.5,307.8L452.2,308.6M456.2,313.0L459.4,316.6M459.4,316.6L459.4,316.6M463.1,321.0L466.2,324.6M470.3,328.8L473.9,332.2M478.3,334.9L481.9,336.3M486.3,335.8L489.9,334.4M493.9,330.9L497.1,327.3M500.5,322.9L502.8,319.3M505.6,314.9L507.5,312.0M507.5,312.0L508.0,311.3M511.5,306.9L514.3,303.3M518.4,299.2L522.0,295.9M526.4,294.2L530.0,293.9M534.4,292.2L538.0,290.3M542.4,290.7L546.0,292.2M550.4,294.0L554.0,295.6M558.4,298.9L562.0,302.3M566.4,305.5L570.0,307.8M574.4,309.6L578.0,310.7M582.4,309.4L586.0,307.1M590.4,304.1L594.0,301.4M598.4,299.1L602.0,297.6" fill="none" stroke="#f00" stroke-width="1.15"/>
<polyline points="3.5,318.3 11.5,335.8 19.5,332.5 27.5,328.7 35.5,312.5 43.5,314.7 51.5,304.2 59.5,293.3 67.5,298.0 75.5,300.8 83.5,307.5 91.5,299.7 99.5,299.7 107.5,306.7 115.5,314.2 123.5,330.0 131.5,344.6 139.5,355.0 147.5,360.0 155.5,361.7 163.5,363.7 171.5,365.3 179.5,364.7 187.5,363.3 195.5,359.2 203.5,356.3 211.5,354.2 219.5,353.3 227.5,351.7 235.5,346.3 243.5,344.2 251.5,338.3 259.5,326.0 267.5,302.0 275.5,292.8 283.5,288.3 291.5,292.0 299.5,294.0 307.5,292.0 315.5,290.3 323.5,286.7 331.5,287.8 339.5,287.8 347.5,297.8 355.5,293.3 363.5,291.7 371.5,284.5 379.5,285.0 387.5,285.3 395.5,287.3 403.5,287.3 411.5,289.5 419.5,291.7 427.5,295.7 435.5,300.3 443.5,303.7 451.5,314.5 459.5,325.3 467.5,335.7 475.5,338.3 483.5,338.3 491.5,327.0 499.5,311.2 507.5,297.3 515.5,295.5 523.5,291.7 531.5,292.8 539.5,288.3 547.5,297.8 555.5,302.0 563.5,312.3 571.5,312.3 579.5,309.5 587.5,296.2 595.5,292.8 603.5,295.0" fill="none" stroke="#0f0" stroke-width="1" shape-rendering="crispEdges"/>
</g>
<g clip-path="url(#c2)">
<g shape-rendering="crispEdges">
<rect x="11" y="427" width="1" height="3" fill="#c0c0c0"/>
<rect x="35" y="426" width="1" height="1" fill="#c0c0c0"/>
<rect x="43" y="425" width="1" height="2" fill="#c0c0c0"/>
<rect x="51" y="423" width="1" height="4" fill="#c0c0c0"/>
<rect x="59" y="418" width="1" height="9" fill="#c0c0c0"/>
<rect x="67" y="419" width="1" height="8" fill="#c0c0c0"/>
<rect x="75" y="418" width="1" height="9" fill="#c0c0c0"/>
<rect x="83" y="416" width="1" height="11" fill="#c0c0c0"/>
<rect x="91" y="415" width="1" height="12" fill="#c0c0c0"/>
<rect x="99" y="415" width="1" height="12" fill="#c0c0c0"/>
<rect x="107" y="417" width="1" height="10" fill="#c0c0c0"/>
<rect x="115" y="419" width="1" height="8" fill="#c0c0c0"/>
<rect x="123" y="424" width="1" height="3" fill="#c0c0c0"/>
<rect x="131" y="427" width="1" height="7" fill="#c0c0c0"/>
<rect x="139" y="427" width="1" height="17" fill="#c0c0c0"/>
<rect x="147" y="427" width="1" height="27" fill="#c0c0c0"/>
<rect x="155" y="427" width="1" height="36" fill="#c0c0c0"/>
<rect x="163" y="427" width="1" height="44" fill="#c0c0c0"/>
<rect x="171" y="427" width="1" height="50" fill="#c0c0c0"/>
<rect x="179" y="427" width="1" height="53" fill="#c0c0c0"/>
<rect x="187" y="427" width="1" height="58" fill="#c0c0c0"/>
<rect x="195" y="427" width="1" height="56" fill="#c0c0c0"/>
<rect x="203" y="427" width="1" height="53" fill="#c0c0c0"/>
<rect x="211" y="427" width="1" height="51" fill="#c0c0c0"/>
<rect x="219" y="427" width="1" height="49" fill="#c0c0c0"/>
<rect x="227" y="427" width="1" height="47" fill="#c0c0c0"/>
<rect x="235" y="427" width="1" height="45" fill="#c0c0c0"/>
<rect x="243" y="427" width="1" height="45" fill="#c0c0c0"/>
<rect x="251" y="427" width="1" height="44" fill="#c0c0c0"/>
<rect x="259" y="427" width="1" height="39" fill="#c0c0c0"/>
<rect x="267" y="427" width="1" height="35" fill="#c0c0c0"/>
<rect x="275" y="427" width="1" height="31" fill="#c0c0c0"/>
<rect x="283" y="427" width="1" height="28" fill="#c0c0c0"/>
<rect x="291" y="427" width="1" height="25" fill="#c0c0c0"/>
<rect x="299" y="427" width="1" height="21" fill="#c0c0c0"/>
<rect x="307" y="427" width="1" height="16" fill="#c0c0c0"/>
<rect x="315" y="427" width="1" height="11" fill="#c0c0c0"/>
<rect x="323" y="427" width="1" height="7" fill="#c0c0c0"/>
<rect x="331" y="427" width="1" height="3" fill="#c0c0c0"/>
<rect x="347" y="425" width="1" height="2" fill="#c0c0c0"/>
<rect x="355" y="417" width="1" height="10" fill="#c0c0c0"/>
<rect x="363" y="408" width="1" height="19" fill="#c0c0c0"/>
<rect x="371" y="399" width="1" height="28" fill="#c0c0c0"/>
<rect x="379" y="394" width="1" height="33" fill="#c0c0c0"/>
<rect x="387" y="389" width="1" height="38" fill="#c0c0c0"/>
<rect x="395" y="384" width="1" height="43" fill="#c0c0c0"/>
<rect x="403" y="381" width="1" height="46" fill="#c0c0c0"/>
<rect x="411" y="379" width="1" height="48" fill="#c0c0c0"/>
<rect x="419" y="379" width="1" height="48" fill="#c0c0c0"/>
<rect x="427" y="380" width="1" height="47" fill="#c0c0c0"/>
<rect x="435" y="382" width="1" height="45" fill="#c0c0c0"/>
<rect x="443" y="385" width="1" height="42" fill="#c0c0c0"/>
<rect x="451" y="393" width="1" height="34" fill="#c0c0c0"/>
<rect x="459" y="399" width="1" height="28" fill="#c0c0c0"/>
<rect x="467" y="402" width="1" height="25" fill="#c0c0c0"/>
<rect x="475" y="406" width="1" height="21" fill="#c0c0c0"/>
<rect x="483" y="407" width="1" height="20" fill="#c0c0c0"/>
<rect x="491" y="404" width="1" height="23" fill="#c0c0c0"/>
<rect x="499" y="402" width="1" height="25" fill="#c0c0c0"/>
<rect x="507" y="398" width="1" height="29" fill="#c0c0c0"/>
<rect x="515" y="396" width="1" height="31" fill="#c0c0c0"/>
<rect x="523" y="394" width="1" height="33" fill="#c0c0c0"/>
<rect x="531" y="394" width="1" height="33" fill="#c0c0c0"/>
<rect x="539" y="392" width="1" height="35" fill="#c0c0c0"/>
<rect x="547" y="396" width="1" height="31" fill="#c0c0c0"/>
<rect x="555" y="398" width="1" height="29" fill="#c0c0c0"/>
<rect x="563" y="401" width="1" height="26" fill="#c0c0c0"/>
<rect x="571" y="402" width="1" height="25" fill="#c0c0c0"/>
<rect x="579" y="402" width="1" height="25" fill="#c0c0c0"/>
<rect x="587" y="397" width="1" height="30" fill="#c0c0c0"/>
<rect x="595" y="394" width="1" height="33" fill="#c0c0c0"/>
<rect x="603" y="392" width="1" height="35" fill="#c0c0c0"/>
</g>
<g shape-rendering="crispEdges" fill="#d4d4d4"><rect x="4" y="408" width="5" height="1"/><rect x="12" y="408" width="5" height="1"/><rect x="20" y="408" width="5" height="1"/><rect x="28" y="408" width="5" height="1"/><rect x="36" y="408" width="5" height="1"/><rect x="44" y="408" width="5" height="1"/><rect x="52" y="408" width="5" height="1"/><rect x="60" y="408" width="5" height="1"/><rect x="68" y="408" width="5" height="1"/><rect x="76" y="408" width="5" height="1"/><rect x="84" y="408" width="5" height="1"/><rect x="92" y="408" width="5" height="1"/><rect x="100" y="408" width="5" height="1"/><rect x="108" y="408" width="5" height="1"/><rect x="116" y="408" width="5" height="1"/><rect x="124" y="408" width="5" height="1"/><rect x="132" y="408" width="5" height="1"/><rect x="140" y="408" width="5" height="1"/><rect x="148" y="408" width="5" height="1"/><rect x="156" y="408" width="5" height="1"/><rect x="164" y="408" width="5" height="1"/><rect x="172" y="408" width="5" height="1"/><rect x="180" y="408" width="5" height="1"/><rect x="188" y="408" width="5" height="1"/><rect x="196" y="408" width="5" height="1"/><rect x="204" y="408" width="5" height="1"/><rect x="212" y="408" width="5" height="1"/><rect x="220" y="408" width="5" height="1"/><rect x="228" y="408" width="5" height="1"/><rect x="236" y="408" width="5" height="1"/><rect x="244" y="408" width="5" height="1"/><rect x="252" y="408" width="5" height="1"/><rect x="260" y="408" width="5" height="1"/><rect x="268" y="408" width="5" height="1"/><rect x="276" y="408" width="5" height="1"/><rect x="284" y="408" width="5" height="1"/><rect x="292" y="408" width="5" height="1"/><rect x="300" y="408" width="5" height="1"/><rect x="308" y="408" width="5" height="1"/><rect x="316" y="408" width="5" height="1"/><rect x="324" y="408" width="5" height="1"/><rect x="332" y="408" width="5" height="1"/><rect x="340" y="408" width="5" height="1"/><rect x="348" y="408" width="5" height="1"/><rect x="356" y="408" width="5" height="1"/><rect x="364" y="408" width="5" height="1"/><rect x="372" y="408" width="5" height="1"/><rect x="380" y="408" width="5" height="1"/><rect x="388" y="408" width="5" height="1"/><rect x="396" y="408" width="5" height="1"/><rect x="404" y="408" width="5" height="1"/><rect x="412" y="408" width="5" height="1"/><rect x="420" y="408" width="5" height="1"/><rect x="428" y="408" width="5" height="1"/><rect x="436" y="408" width="5" height="1"/><rect x="444" y="408" width="5" height="1"/><rect x="452" y="408" width="5" height="1"/><rect x="460" y="408" width="5" height="1"/><rect x="468" y="408" width="5" height="1"/><rect x="476" y="408" width="5" height="1"/><rect x="484" y="408" width="5" height="1"/><rect x="492" y="408" width="5" height="1"/><rect x="500" y="408" width="5" height="1"/><rect x="508" y="408" width="5" height="1"/><rect x="516" y="408" width="5" height="1"/><rect x="524" y="408" width="5" height="1"/><rect x="532" y="408" width="5" height="1"/><rect x="540" y="408" width="5" height="1"/><rect x="548" y="408" width="5" height="1"/><rect x="556" y="408" width="5" height="1"/><rect x="564" y="408" width="5" height="1"/><rect x="572" y="408" width="5" height="1"/><rect x="580" y="408" width="5" height="1"/><rect x="588" y="408" width="5" height="1"/><rect x="596" y="408" width="5" height="1"/><rect x="604" y="408" width="5" height="1"/><rect x="612" y="408" width="5" height="1"/><rect x="620" y="408" width="5" height="1"/><rect x="628" y="408" width="5" height="1"/><rect x="636" y="408" width="5" height="1"/><rect x="644" y="408" width="5" height="1"/><rect x="652" y="408" width="5" height="1"/><rect x="660" y="408" width="5" height="1"/><rect x="668" y="408" width="5" height="1"/><rect x="676" y="408" width="5" height="1"/><rect x="684" y="408" width="5" height="1"/><rect x="692" y="408" width="5" height="1"/><rect x="700" y="408" width="5" height="1"/><rect x="708" y="408" width="5" height="1"/><rect x="716" y="408" width="5" height="1"/><rect x="724" y="408" width="5" height="1"/><rect x="732" y="408" width="5" height="1"/><rect x="740" y="408" width="5" height="1"/><rect x="748" y="408" width="5" height="1"/></g>
<g shape-rendering="crispEdges" fill="#d4d4d4"><rect x="4" y="455" width="5" height="1"/><rect x="12" y="455" width="5" height="1"/><rect x="20" y="455" width="5" height="1"/><rect x="28" y="455" width="5" height="1"/><rect x="36" y="455" width="5" height="1"/><rect x="44" y="455" width="5" height="1"/><rect x="52" y="455" width="5" height="1"/><rect x="60" y="455" width="5" height="1"/><rect x="68" y="455" width="5" height="1"/><rect x="76" y="455" width="5" height="1"/><rect x="84" y="455" width="5" height="1"/><rect x="92" y="455" width="5" height="1"/><rect x="100" y="455" width="5" height="1"/><rect x="108" y="455" width="5" height="1"/><rect x="116" y="455" width="5" height="1"/><rect x="124" y="455" width="5" height="1"/><rect x="132" y="455" width="5" height="1"/><rect x="140" y="455" width="5" height="1"/><rect x="148" y="455" width="5" height="1"/><rect x="156" y="455" width="5" height="1"/><rect x="164" y="455" width="5" height="1"/><rect x="172" y="455" width="5" height="1"/><rect x="180" y="455" width="5" height="1"/><rect x="188" y="455" width="5" height="1"/><rect x="196" y="455" width="5" height="1"/><rect x="204" y="455" width="5" height="1"/><rect x="212" y="455" width="5" height="1"/><rect x="220" y="455" width="5" height="1"/><rect x="228" y="455" width="5" height="1"/><rect x="236" y="455" width="5" height="1"/><rect x="244" y="455" width="5" height="1"/><rect x="252" y="455" width="5" height="1"/><rect x="260" y="455" width="5" height="1"/><rect x="268" y="455" width="5" height="1"/><rect x="276" y="455" width="5" height="1"/><rect x="284" y="455" width="5" height="1"/><rect x="292" y="455" width="5" height="1"/><rect x="300" y="455" width="5" height="1"/><rect x="308" y="455" width="5" height="1"/><rect x="316" y="455" width="5" height="1"/><rect x="324" y="455" width="5" height="1"/><rect x="332" y="455" width="5" height="1"/><rect x="340" y="455" width="5" height="1"/><rect x="348" y="455" width="5" height="1"/><rect x="356" y="455" width="5" height="1"/><rect x="364" y="455" width="5" height="1"/><rect x="372" y="455" width="5" height="1"/><rect x="380" y="455" width="5" height="1"/><rect x="388" y="455" width="5" height="1"/><rect x="396" y="455" width="5" height="1"/><rect x="404" y="455" width="5" height="1"/><rect x="412" y="455" width="5" height="1"/><rect x="420" y="455" width="5" height="1"/><rect x="428" y="455" width="5" height="1"/><rect x="436" y="455" width="5" height="1"/><rect x="444" y="455" width="5" height="1"/><rect x="452" y="455" width="5" height="1"/><rect x="460" y="455" width="5" height="1"/><rect x="468" y="455" width="5" height="1"/><rect x="476" y="455" width="5" height="1"/><rect x="484" y="455" width="5" height="1"/><rect x="492" y="455" width="5" height="1"/><rect x="500" y="455" width="5" height="1"/><rect x="508" y="455" width="5" height="1"/><rect x="516" y="455" width="5" height="1"/><rect x="524" y="455" width="5" height="1"/><rect x="532" y="455" width="5" height="1"/><rect x="540" y="455" width="5" height="1"/><rect x="548" y="455" width="5" height="1"/><rect x="556" y="455" width="5" height="1"/><rect x="564" y="455" width="5" height="1"/><rect x="572" y="455" width="5" height="1"/><rect x="580" y="455" width="5" height="1"/><rect x="588" y="455" width="5" height="1"/><rect x="596" y="455" width="5" height="1"/><rect x="604" y="455" width="5" height="1"/><rect x="612" y="455" width="5" height="1"/><rect x="620" y="455" width="5" height="1"/><rect x="628" y="455" width="5" height="1"/><rect x="636" y="455" width="5" height="1"/><rect x="644" y="455" width="5" height="1"/><rect x="652" y="455" width="5" height="1"/><rect x="660" y="455" width="5" height="1"/><rect x="668" y="455" width="5" height="1"/><rect x="676" y="455" width="5" height="1"/><rect x="684" y="455" width="5" height="1"/><rect x="692" y="455" width="5" height="1"/><rect x="700" y="455" width="5" height="1"/><rect x="708" y="455" width="5" height="1"/><rect x="716" y="455" width="5" height="1"/><rect x="724" y="455" width="5" height="1"/><rect x="732" y="455" width="5" height="1"/><rect x="740" y="455" width="5" height="1"/><rect x="748" y="455" width="5" height="1"/></g>
<path d="M3.5,425.7L7.1,425.7M11.5,425.7L15.1,425.7M15.1,425.7L15.1,425.7M19.5,425.7L23.1,425.7M27.5,425.7L31.1,425.7M35.5,425.7L39.1,425.7M43.5,425.7L47.1,425.5M51.5,425.3L55.1,424.9M59.5,424.5L63.1,424.3M67.5,424.0L71.1,423.5M71.1,423.5L71.1,423.5M75.5,422.8L79.1,422.3M79.1,422.3L79.1,422.3M83.5,421.7L87.1,421.2M87.1,421.2L87.1,421.2M91.5,420.7L95.1,419.8M95.1,419.8L95.1,419.8M99.5,418.7L103.1,418.1M103.1,418.1L103.1,418.1M107.5,417.4L111.1,417.4M111.1,417.4L111.1,417.4M115.5,417.3L119.1,417.3M119.1,417.3L119.1,417.3M123.5,417.4L127.1,418.1M127.1,418.1L127.1,418.1M131.5,419.0L135.1,420.5M135.1,420.5L135.1,420.5M135.1,420.5L135.1,420.5M139.5,422.3L143.1,424.4M143.1,424.4L143.1,424.4M143.1,424.4L143.1,424.4M147.5,427.0L151.1,429.2M151.1,429.2L151.1,429.2M151.1,429.2L151.1,429.2M155.5,432.0L159.1,435.0M159.1,435.0L159.1,435.0M159.1,435.0L159.1,435.0M163.5,438.7L167.1,442.1M167.1,442.1L167.1,442.1M167.1,442.1L167.1,442.1M171.5,446.2L175.1,449.2M175.1,449.2L175.1,449.2M175.1,449.2L175.1,449.2M179.5,452.8L183.1,456.2M183.1,456.2L183.1,456.2M183.1,456.2L183.1,456.2M187.5,460.3L191.1,463.0M191.1,463.0L191.1,463.0M191.1,463.0L191.1,463.0M195.5,466.2L199.1,468.9M199.1,468.9L199.1,468.9M199.1,468.9L199.1,468.9M203.5,472.3L207.1,474.1M207.1,474.1L207.1,474.1M207.1,474.1L207.1,474.1M211.5,476.2L215.1,477.3M215.1,477.3L215.1,477.3M215.1,477.3L215.1,477.3M219.5,478.7L223.1,479.3M223.1,479.3L223.1,479.3M223.1,479.3L223.1,479.3M227.5,480.0L231.1,480.3M231.1,480.3L231.1,480.3M231.1,480.3L231.1,480.3M235.5,480.7L239.1,480.5M239.1,480.5L239.1,480.5M239.1,480.5L239.1,480.5M243.5,480.3L247.1,479.7M247.1,479.7L247.1,479.7M247.1,479.7L247.1,479.7M251.5,479.0L255.1,478.4M255.1,478.4L255.1,478.4M255.1,478.4L255.1,478.4M259.5,477.6L263.1,476.2M267.5,474.5L271.1,473.1M275.5,471.5L279.1,470.1M283.5,468.3L287.1,466.8M291.5,465.0L295.1,463.7M299.5,462.2L303.1,460.4M307.5,458.3L311.1,456.7M315.5,454.7L319.1,452.9M323.5,450.8L327.1,449.1M331.5,447.0L335.1,445.3M339.5,443.3L343.1,441.7M347.5,439.7L351.1,437.6M355.5,435.0L359.1,432.8M363.5,430.0L367.1,427.4M371.5,424.2L375.1,421.9M379.5,419.2L383.1,416.7M387.5,413.7L391.1,410.6M395.5,406.8L399.1,404.6M403.5,401.8L407.1,399.3M411.5,396.3L415.1,394.1M419.5,391.3L423.1,389.5M427.5,387.3L431.1,385.9M435.5,384.3L439.1,383.9M443.5,383.5L447.1,383.4M451.5,383.2L455.1,383.6M459.5,384.0L463.1,385.0M467.5,386.3L471.1,387.3M475.5,388.5L479.1,389.8M483.5,391.3L487.1,392.8M491.5,394.7L495.1,395.9M499.5,397.3L503.1,398.2M507.5,399.3L511.1,399.8M515.5,400.4L519.1,400.3M523.5,400.2L527.1,399.8M531.5,399.3L535.1,398.9M539.5,398.5L543.1,398.0M547.5,397.3L551.1,396.9M555.5,396.5L559.1,396.5M563.5,396.5L567.1,396.5M571.5,396.5L575.1,396.5M579.5,396.5L583.1,396.5M587.5,396.5L591.1,396.5" fill="none" stroke="#f00" stroke-width="1.15"/>
<polyline points="3.5,436.2 11.5,444.5 19.5,427.8 27.5,432.3 35.5,430.3 43.5,428.3 51.5,424.5 59.5,419.5 67.5,430.7 75.5,427.3 83.5,424.5 91.5,424.5 99.5,428.3 107.5,432.3 115.5,432.3 123.5,442.0 131.5,452.0 139.5,453.7 147.5,455.8 155.5,457.8 163.5,459.5 171.5,461.2 179.5,455.7 187.5,457.0 195.5,449.5 203.5,447.0 211.5,450.7 219.5,446.2 227.5,442.0 235.5,443.7 243.5,448.7 251.5,441.7 259.5,440.0 267.5,434.7 275.5,437.5 283.5,435.3 291.5,436.7 299.5,434.2 307.5,427.0 315.5,424.7 323.5,424.7 331.5,424.7 339.5,423.3 347.5,425.3 355.5,408.3 363.5,404.7 371.5,404.7 379.5,405.8 387.5,404.0 395.5,402.3 403.5,402.3 411.5,402.3 419.5,406.3 427.5,409.3 435.5,413.0 443.5,416.8 451.5,435.2 459.5,431.3 467.5,427.7 475.5,432.3 483.5,424.7 491.5,417.7 499.5,415.2 507.5,411.8 515.5,413.5 523.5,411.3 531.5,415.7 539.5,412.3 547.5,427.3 555.5,425.2 563.5,426.3 571.5,425.2 579.5,420.7 587.5,411.3 595.5,411.3 603.5,413.5" fill="none" stroke="#0f0" stroke-width="1" shape-rendering="crispEdges"/>
</g>
<g shape-rendering="crispEdges" fill="#fff">
<rect x="2" y="2" width="755" height="1"/>
<rect x="2" y="2" width="1" height="490"/>
<rect x="756" y="2" width="1" height="490"/>
<rect x="2" y="275" width="755" height="1"/>
<rect x="2" y="277" width="755" height="1"/>
<rect x="2" y="369" width="755" height="1"/>
<rect x="2" y="371" width="755" height="1"/>
<rect x="2" y="491" width="755" height="1"/>
<rect x="0" y="276" width="756" height="1" fill="#000"/>
<rect x="0" y="370" width="756" height="1" fill="#000"/>
<rect x="757" y="36" width="2" height="1"/>
<rect x="757" y="69" width="2" height="1"/>
<rect x="757" y="103" width="2" height="1"/>
<rect x="757" y="137" width="2" height="1"/>
<rect x="757" y="171" width="2" height="1"/>
<rect x="757" y="205" width="2" height="1"/>
<rect x="757" y="239" width="2" height="1"/>
<rect x="757" y="273" width="2" height="1"/>
<rect x="757" y="279" width="1" height="1"/>
<rect x="757" y="368" width="1" height="1"/>
<rect x="757" y="373" width="1" height="1"/>
<rect x="757" y="490" width="1" height="1"/>
<rect x="3" y="492" width="1" height="4"/>
<rect x="67" y="492" width="1" height="4"/>
<rect x="131" y="492" width="1" height="4"/>
<rect x="195" y="492" width="1" height="4"/>
<rect x="259" y="492" width="1" height="4"/>
<rect x="323" y="492" width="1" height="4"/>
<rect x="387" y="492" width="1" height="4"/>
<rect x="451" y="492" width="1" height="4"/>
<rect x="515" y="492" width="1" height="4"/>
<rect x="579" y="492" width="1" height="4"/>
<rect x="759" y="40" width="33" height="11"/>
</g>
<g filter="url(#gray)">
<text x="6.5" y="14" textLength="56.0" lengthAdjust="spacingAndGlyphs" xml:space="preserve">USDCHF,H4</text>
<text x="68.3" y="14" textLength="26.700000000000003" lengthAdjust="spacingAndGlyphs" xml:space="preserve">1.2955</text>
<text x="99.3" y="14" textLength="26.5" lengthAdjust="spacingAndGlyphs" xml:space="preserve">1.2966</text>
<text x="130.1" y="14" textLength="27.400000000000006" lengthAdjust="spacingAndGlyphs" xml:space="preserve">1.2938</text>
<text x="161.3" y="14" textLength="26.5" lengthAdjust="spacingAndGlyphs" xml:space="preserve">1.2945</text>
<text x="6.5" y="291" textLength="55.3" lengthAdjust="spacingAndGlyphs" xml:space="preserve">Stoch(14,3,3)</text>
<text x="64.0" y="291" textLength="34.0" lengthAdjust="spacingAndGlyphs" xml:space="preserve">81.5742</text>
<text x="100.0" y="291" textLength="34.19999999999999" lengthAdjust="spacingAndGlyphs" xml:space="preserve">81.4094</text>
<text x="139.5" y="291" textLength="34.0" lengthAdjust="spacingAndGlyphs" xml:space="preserve">CCI(14)</text>
<text x="176.5" y="291" textLength="38.19999999999999" lengthAdjust="spacingAndGlyphs" xml:space="preserve">153.0215</text>
<text x="6.5" y="385" textLength="32.7" lengthAdjust="spacingAndGlyphs" xml:space="preserve">RSI(14)</text>
<text x="40.8" y="385" textLength="34.0" lengthAdjust="spacingAndGlyphs" xml:space="preserve">65.4523</text>
<text x="80.8" y="385" textLength="68.39999999999999" lengthAdjust="spacingAndGlyphs" xml:space="preserve">MACD(12,26,9)</text>
<text x="150.8" y="385" textLength="34.69999999999999" lengthAdjust="spacingAndGlyphs" xml:space="preserve">0.00380</text>
<text x="187.5" y="385" textLength="31.0" lengthAdjust="spacingAndGlyphs" xml:space="preserve">0.00328</text>
<text x="5.3" y="482" textLength="53.900000000000006" lengthAdjust="spacingAndGlyphs" xml:space="preserve">MetaTrader,</text>
<text x="62.7" y="482" textLength="5.099999999999994" lengthAdjust="spacingAndGlyphs" xml:space="preserve">_</text>
<text x="70.0" y="482" textLength="45.0" lengthAdjust="spacingAndGlyphs" xml:space="preserve">2001-2005</text>
<text x="117.0" y="482" textLength="54.19999999999999" lengthAdjust="spacingAndGlyphs" xml:space="preserve">MetaQuotes</text>
<text x="173.2" y="482" textLength="41.30000000000001" lengthAdjust="spacingAndGlyphs" xml:space="preserve">Software</text>
<text x="217.0" y="482" textLength="26.0" lengthAdjust="spacingAndGlyphs" xml:space="preserve">Corp.</text>
<text x="762.1" y="39" textLength="27.5" lengthAdjust="spacingAndGlyphs" xml:space="preserve">1.2965</text>
<text x="762.1" y="72" textLength="27.5" lengthAdjust="spacingAndGlyphs" xml:space="preserve">1.2905</text>
<text x="762.1" y="106" textLength="27.5" lengthAdjust="spacingAndGlyphs" xml:space="preserve">1.2845</text>
<text x="762.1" y="140" textLength="27.5" lengthAdjust="spacingAndGlyphs" xml:space="preserve">1.2785</text>
<text x="762.1" y="174" textLength="27.5" lengthAdjust="spacingAndGlyphs" xml:space="preserve">1.2725</text>
<text x="762.1" y="208" textLength="27.5" lengthAdjust="spacingAndGlyphs" xml:space="preserve">1.2665</text>
<text x="762.1" y="242" textLength="27.5" lengthAdjust="spacingAndGlyphs" xml:space="preserve">1.2605</text>
<text x="762.1" y="276" textLength="27.5" lengthAdjust="spacingAndGlyphs" xml:space="preserve">1.2545</text>
<text x="762.1" y="49" textLength="27.5" lengthAdjust="spacingAndGlyphs" fill="#000" style="fill:#000" xml:space="preserve">1.2945</text>
<text x="760.2" y="288" textLength="14.299999999999955" lengthAdjust="spacingAndGlyphs" xml:space="preserve">100</text>
<text x="758.4" y="299" textLength="10.200000000000045" lengthAdjust="spacingAndGlyphs" xml:space="preserve">80</text>
<text x="758.4" y="353" textLength="10.200000000000045" lengthAdjust="spacingAndGlyphs" xml:space="preserve">20</text>
<text x="759.2" y="366" textLength="5.5" lengthAdjust="spacingAndGlyphs" xml:space="preserve">0</text>
<text x="760.2" y="382" textLength="14.299999999999955" lengthAdjust="spacingAndGlyphs" xml:space="preserve">100</text>
<text x="758.4" y="411" textLength="10.200000000000045" lengthAdjust="spacingAndGlyphs" xml:space="preserve">70</text>
<text x="758.4" y="458" textLength="10.200000000000045" lengthAdjust="spacingAndGlyphs" xml:space="preserve">30</text>
<text x="759.2" y="488" textLength="5.5" lengthAdjust="spacingAndGlyphs" xml:space="preserve">0</text>
<text x="3.5" y="503.8" textLength="48.5" lengthAdjust="spacingAndGlyphs" xml:space="preserve">18 Jan 2006</text>
<text x="67" y="503.8" textLength="51" lengthAdjust="spacingAndGlyphs" xml:space="preserve">19 Jan 16:00</text>
<text x="131" y="503.8" textLength="51" lengthAdjust="spacingAndGlyphs" xml:space="preserve">23 Jan 00:00</text>
<text x="195" y="503.8" textLength="51" lengthAdjust="spacingAndGlyphs" xml:space="preserve">24 Jan 08:00</text>
<text x="259" y="503.8" textLength="51" lengthAdjust="spacingAndGlyphs" xml:space="preserve">25 Jan 16:00</text>
<text x="323" y="503.8" textLength="51" lengthAdjust="spacingAndGlyphs" xml:space="preserve">27 Jan 00:00</text>
<text x="387" y="503.8" textLength="51" lengthAdjust="spacingAndGlyphs" xml:space="preserve">30 Jan 08:00</text>
<text x="451" y="503.8" textLength="51" lengthAdjust="spacingAndGlyphs" xml:space="preserve">31 Jan 16:00</text>
<text x="515" y="503.8" textLength="46" lengthAdjust="spacingAndGlyphs" xml:space="preserve">2 Feb 00:00</text>
<text x="579" y="503.8" textLength="46" lengthAdjust="spacingAndGlyphs" xml:space="preserve">3 Feb 08:00</text>
</g>
<line x1="391.5" y1="72" x2="658" y2="-0.6" stroke="#fff" stroke-width="2.25"/>
<line x1="392" y1="72.7" x2="719" y2="48.2" stroke="#ff0" stroke-width="1" shape-rendering="crispEdges"/>
<line x1="249" y1="256.3" x2="793" y2="9.8" stroke="#fff" stroke-width="2.25"/>
<line x1="528.7" y1="284.6" x2="635.5" y2="296.3" stroke="#0ff" stroke-width="2.4"/>
<line x1="521.8" y1="279" x2="527" y2="282.5" stroke="#0ff" stroke-width="1.6"/>
<rect x="528" y="283" width="2" height="2" fill="#fff"/>
<rect x="531" y="410" width="81" height="2.4" fill="#0ff"/>
<ellipse cx="595.7" cy="33.9" rx="19.1" ry="21.8" fill="none" stroke="#f0f" stroke-width="1.05"/>
</svg></body></html>
